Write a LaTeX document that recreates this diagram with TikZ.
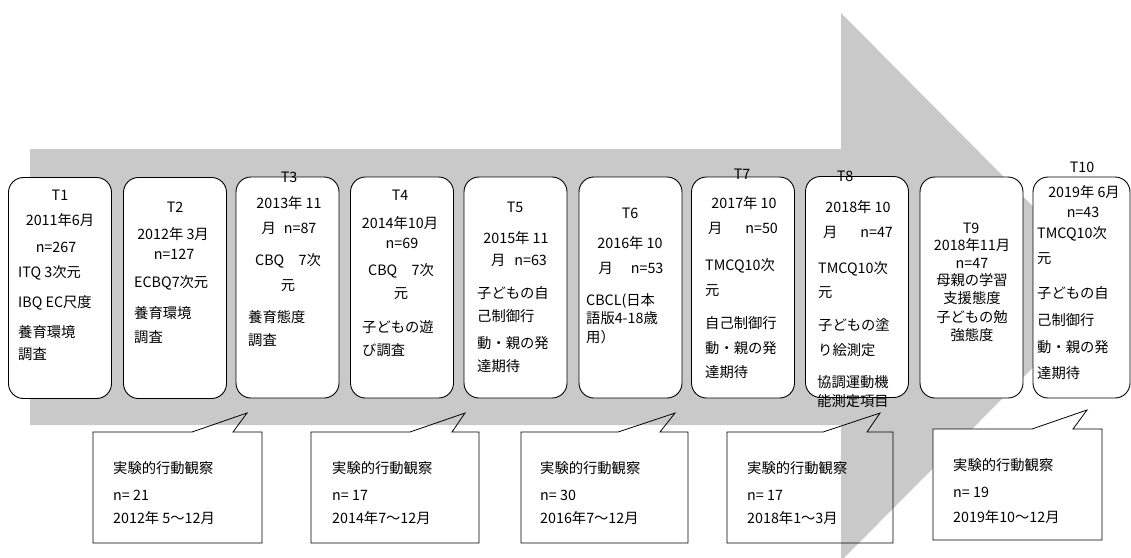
\documentclass[tikz,border=0pt]{standalone}
\usepackage{fontspec}
\setmainfont{Noto Sans CJK JP}
\definecolor{arrowgray}{RGB}{201,201,201}
\tikzset{
  tbox/.style={draw=black, fill=white, line width=0.9pt, rounded corners=15pt,
    minimum width=103pt, minimum height=221pt, inner sep=0pt},
  cline/.style={draw=black, line width=0.8pt},
  ctext/.style={anchor=base, inner sep=0pt, yshift=-5pt, font=\fontsize{14.3}{16}\selectfont},
  ltext/.style={anchor=base west, inner sep=0pt, yshift=-5pt, font=\fontsize{14.3}{16}\selectfont},
}
\newcommand\CTX[4]{\node[ctext] (#1) at (#2,#3) {#4};}
\newcommand\LTX[4]{\node[ltext] (#1) at (#2,#3) {#4};}
% callout: x1 top x2 bottom pointer-start tipx tipy pointer-back style
\newcommand\mycallout[9]{%
  \draw[cline,#9] (#1,#2) -- (#5,#2) -- (#6,#7) -- (#8,#2) -- (#3,#2) -- (#3,#4) -- (#1,#4) -- cycle;}
\begin{document}
\begin{tikzpicture}[x=1pt,y=-1pt]
\useasboundingbox (0,0) rectangle (1131,557);
\clip (0,0) rectangle (1131,557);
% big arrow
\fill[arrowgray] (30,149) -- (841,149) -- (841,13) -- (1113,287) -- (841,561) -- (841,425) -- (30,425) -- cycle;

% boxes
\node[tbox] (B1) at (60,288) {};
\node[tbox] (B2) at (175,288) {};
\node[tbox] (B3) at (287.5,287.5) {};
\node[tbox] (B4) at (402,287.5) {};
\node[tbox] (B5) at (515.5,287.5) {};
\node[tbox] (B6) at (630.5,287.5) {};
\node[tbox] (B7) at (743,287.5) {};
\node[tbox] (B8) at (857,287) {};
\node[tbox] (B9) at (971.5,287.5) {};
\node[tbox, minimum width=97pt] (B10) at (1081.5,287.5) {};

% box 1
\CTX{b1a}{60}{195}{T1}
\CTX{b1b}{60}{220}{2011年6月}
\CTX{b1c}{56}{247}{n=267}
\LTX{b1d}{18}{272}{ITQ 3次元}
\LTX{b1e}{18}{302}{IBQ EC尺度}
\LTX{b1f}{18}{332}{養育環境}
\LTX{b1g}{18}{354}{調査}
% box 2
\CTX{b2a}{175}{207}{T2}
\CTX{b2b}{173}{234}{2012年 3月}
\CTX{b2c}{174}{254}{n=127}
\LTX{b2d}{134}{282}{ECBQ7次元}
\LTX{b2e}{134}{313}{養育環境}
\LTX{b2f}{134}{337}{調査}
% box 3
\CTX{b3a}{289}{177}{T3}
\CTX{b3b}{289}{203}{2013年 11}
\CTX{b3c}{289}{228}{月\hspace{8pt}n=87}
\CTX{b3d}{288}{260}{CBQ　7次}
\CTX{b3e}{288}{285}{元}
\LTX{b3f}{248}{317}{養育態度}
\LTX{b3g}{248}{340}{調査}
% box 4
\CTX{b4a}{400}{195}{T4}
\CTX{b4b}{400}{223}{2014年10月}
\CTX{b4c}{402}{243}{n=69}
\CTX{b4d}{401}{270}{CBQ　7次}
\CTX{b4e}{401}{293}{元}
\LTX{b4f}{362}{327}{子どもの遊}
\LTX{b4g}{362}{350}{び調査}
% box 5
\CTX{b5a}{515}{207}{T5}
\CTX{b5b}{516}{238}{2015年 11}
\CTX{b5c}{519}{260}{月\hspace{9pt}n=63}
\LTX{b5d}{477}{293}{子どもの自}
\LTX{b5e}{477}{316}{己制御行}
\LTX{b5f}{477}{343}{動・親の発}
\LTX{b5g}{477}{366}{達期待}
% box 6
\CTX{b6a}{630}{213}{T6}
\CTX{b6b}{630}{243}{2016年 10}
\CTX{b6c}{631}{268}{月\hspace{18pt}n=53}
\LTX{b6d}{586}{300}{CBCL(日本}
\LTX{b6e}{586}{318}{語版4-18歳}
\LTX{b6f}{586}{337}{用）}
% box 7
\CTX{b7a}{742}{174}{T7}
\CTX{b7b}{744}{203}{2017年 10}
\CTX{b7c}{743}{228}{月\hspace{23pt}n=50}
\LTX{b7d}{705}{265}{TMCQ10次}
\LTX{b7e}{705}{290}{元}
\LTX{b7f}{705}{323}{自己制御行}
\LTX{b7g}{705}{348}{動・親の発}
\LTX{b7h}{705}{372}{達期待}
% box 8
\CTX{b8a}{845}{176}{T8}
\CTX{b8b}{858}{207}{2018年 10}
\CTX{b8c}{858}{232}{月\hspace{23pt}n=47}
\LTX{b8d}{818}{268}{TMCQ10次}
\LTX{b8e}{818}{292}{元}
\LTX{b8f}{818}{325}{子どもの塗}
\LTX{b8g}{818}{350}{り絵測定}
\LTX{b8h}{817}{382}{協調運動機}
\LTX{b8i}{817}{401}{能測定項目}
% box 9
\CTX{b9a}{971}{228}{T9}
\CTX{b9b}{972}{245}{2018年11月}
\CTX{b9c}{972}{263}{n=47}
\CTX{b9d}{972}{280}{母親の学習}
\CTX{b9e}{972}{298}{支援態度}
\CTX{b9f}{972}{317}{子どもの勉}
\CTX{b9g}{972}{335}{強態度}
% box 10
\CTX{b10a}{1082}{167}{T10}
\CTX{b10b}{1084}{192}{2019年 6月}
\CTX{b10c}{1083}{212}{n=43}
\LTX{b10d}{1037}{233}{TMCQ10次}
\LTX{b10e}{1037}{258}{元}
\LTX{b10f}{1037}{293}{子どもの自}
\LTX{b10g}{1037}{320}{己制御行}
\LTX{b10h}{1037}{347}{動・親の発}
\LTX{b10i}{1037}{373}{達期待}

% callouts
\mycallout{93}{432}{262}{543}{192}{247}{413}{233}{}
\mycallout{311}{432}{479}{543}{410}{465}{413}{452}{}
\mycallout{521}{432}{688}{543}{618}{675}{413}{660}{}
\mycallout{727}{432}{893}{543}{823}{880}{413}{867}{}
\mycallout{933}{429}{1102}{540}{1032}{1087}{410}{1073}{fill=white}

\LTX{c1a}{113}{468}{実験的行動観察}
\LTX{c1b}{113}{495}{n= 21}
\LTX{c1c}{113}{518}{2012年 5～12月}
\LTX{c2a}{332}{468}{実験的行動観察}
\LTX{c2b}{332}{495}{n= 17}
\LTX{c2c}{332}{518}{2014年7～12月}
\LTX{c3a}{540}{468}{実験的行動観察}
\LTX{c3b}{540}{495}{n= 30}
\LTX{c3c}{540}{518}{2016年7～12月}
\LTX{c4a}{747}{468}{実験的行動観察}
\LTX{c4b}{747}{495}{n= 17}
\LTX{c4c}{747}{518}{2018年1～3月}
\LTX{c5a}{953}{465}{実験的行動観察}
\LTX{c5b}{953}{492}{n= 19}
\LTX{c5c}{953}{517}{2019年10～12月}
\end{tikzpicture}
\end{document}
